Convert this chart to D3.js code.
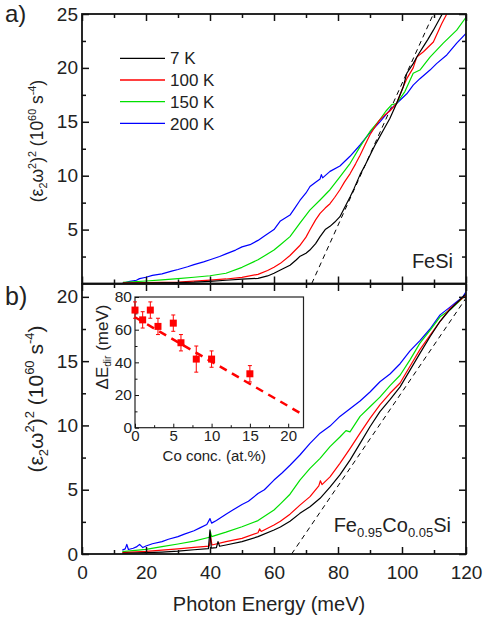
<!DOCTYPE html>
<html>
<head>
<meta charset="utf-8">
<script src="https://cdn.jsdelivr.net/npm/d3@7"></script>
<style>
  body { margin: 0; background: #fff; }
  svg { display: block; }
  text { font-family: "Liberation Sans", Arimo, Arial, sans-serif; fill: #222; }
</style>
</head>
<body>
<div id="wrapper"></div>
<script>
/* global d3 */

// ---- data ----
const temps = ["7 K", "100 K", "150 K", "200 K"]
const tempColors = ["#000000", "#ff0000", "#00e000", "#0000ff"]

// panel a: FeSi, photon energy (meV) vs (eps2 w^2)^2 (1e60 s^-4)
const feSi7K = [[12.8,0.02],[20,0.03],[25,0.05],[30,0.08],[35,0.12],[40,0.2],[45,0.3],[50,0.4],[55,0.48],[58,0.7],[60,0.95],[62,1.25],[65,1.7],[67,2.2],[68,2.5],[70,2.8],[71.2,3.1],[73,3.7],[74.4,4.35],[76,5.0],[77.5,5.3],[79,5.7],[80.6,6.2],[82,7.0],[83.8,8.05],[85,8.8],[86.9,10.1],[88.5,11.0],[90,11.9],[91.5,12.8],[93,13.6],[94.5,14.4],[96.2,15.3],[98.3,16.7],[100.4,18.25],[101.5,19.5],[103.5,20.4],[105,21.2],[106.7,22.0],[108,22.6],[109.8,23.5],[112.4,24.9],[113,25.3]]
const feSi100K = [[12.8,0.05],[20,0.08],[25,0.1],[30,0.14],[35,0.22],[40,0.32],[45,0.42],[50,0.57],[55,0.85],[58,1.2],[60,1.5],[62,1.87],[65,2.6],[68,3.5],[70,4.3],[71.2,4.96],[73,5.9],[74.4,6.5],[76,7.0],[77.5,7.4],[79,8.0],[80.6,8.7],[82,9.4],[83.8,10.2],[85.5,11.1],[86.9,11.9],[88.5,12.9],[90,13.8],[91.5,14.5],[93.1,15.2],[94.5,15.6],[96.2,16.0],[98.3,16.7],[100.4,18.25],[101.5,19.0],[103.5,20.0],[104.6,21.0],[106.7,21.5],[109.8,22.4],[112.4,24.1],[114,25.0],[114.5,25.3]]
const feSi150K = [[12.8,0.1],[20,0.23],[25,0.33],[30,0.45],[35,0.58],[40,0.72],[45,0.95],[50,1.5],[55,2.2],[60,3.1],[62,3.6],[65,4.35],[68.1,5.6],[71.2,6.8],[74.4,7.75],[77.5,8.7],[80.6,9.9],[83.8,11.15],[86.9,12.7],[90,14.1],[93.1,15.2],[95,16.0],[96.8,16.6],[98.3,16.7],[100.9,17.8],[103.5,19.5],[105.6,19.8],[108.75,21.0],[112.9,22.3],[117.1,23.5],[120,24.7]]
const feSi200K = [[12.4,0.0],[15,0.2],[17,0.3],[18,0.45],[20,0.58],[22,0.75],[25,0.9],[28,1.15],[30,1.3],[33,1.55],[35,1.75],[38,2.0],[40,2.2],[43,2.5],[45,2.75],[48,3.1],[50,3.4],[52.5,3.6],[55,4.0],[57,4.4],[60,5.0],[62,5.8],[65,6.35],[66.5,7.0],[68.1,7.7],[70,8.4],[71.25,9.0],[73,9.4],[74.4,9.7],[74.8,10.1],[75.2,9.8],[77.5,10.4],[80.6,10.9],[83.75,11.8],[86.9,12.85],[90,14.0],[93.1,15.0],[96.25,16.1],[98.3,16.7],[101.5,17.6],[103.5,18.4],[105.6,19.0],[108.75,19.8],[110.8,20.4],[114,21.2],[117.1,22.3],[120,23.2]]
const feSiFit = [[71.8,0],[109.8,25]]

// panel b: Fe0.95Co0.05Si
const feCoSi7K = [[12.6,0.05],[20,0.1],[25,0.15],[30,0.22],[35,0.33],[39.5,0.42],[40,1.87],[40.4,0.45],[42,0.5],[42.5,0.96],[43,0.6],[45,0.7],[50,0.96],[55,1.35],[60,1.87],[62,2.1],[65,2.55],[68.1,3.16],[71.25,3.68],[74.4,4.33],[77.5,5.2],[80.6,6.15],[83.75,7.3],[86.9,8.6],[90,9.9],[93.1,11.07],[96.25,12.0],[99.4,13.0],[102.5,14.3],[105.6,15.6],[108.75,16.9],[111.9,18.1],[115,19.0],[119.4,20.1],[120,20.2]]
const feCoSi100K = [[12.6,0.1],[20,0.2],[25,0.3],[30,0.4],[35,0.52],[39.8,0.62],[40.2,1.35],[40.6,0.7],[45,0.96],[50,1.22],[55,1.65],[55.5,1.95],[56,1.75],[60,2.25],[62,2.55],[65,3.1],[68.1,3.8],[71.25,4.46],[74,5.3],[74.5,5.7],[75,5.4],[77.5,6.0],[80.6,7.05],[83.75,8.2],[86.9,9.4],[90,10.55],[93.1,11.6],[96.25,12.5],[99.4,13.3],[102.5,14.6],[105.6,15.9],[108.75,17.0],[111.9,18.1],[115,19.1],[119.4,20.0],[120,20.1]]
const feCoSi150K = [[12.6,0.18],[20,0.36],[25,0.57],[30,0.78],[35,1.0],[39.8,1.3],[40.1,1.75],[40.5,1.35],[45,1.7],[50,2.12],[55,2.6],[60,3.42],[62,3.9],[65,4.65],[68.1,5.75],[71.25,6.66],[74.4,7.44],[77.5,8.35],[80.6,9.1],[82.5,9.6],[83.75,9.5],[86.9,10.7],[90,11.45],[93.1,12.2],[96.25,13.1],[99.4,13.9],[102.5,15.1],[105.6,16.4],[108.75,17.4],[111.9,18.45],[115,19.0],[119.4,20.0],[120,20.0]]
const feCoSi200K = [[12.6,0.3],[13.5,0.4],[14,0.75],[14.5,0.35],[16,0.45],[17,0.55],[18,0.75],[19,0.5],[20,0.62],[22,0.8],[25,0.96],[27,1.15],[30,1.35],[32,1.55],[35,1.81],[37,2.05],[39,2.3],[40,2.75],[40.5,2.4],[42,2.6],[45,3.1],[47,3.4],[50,3.85],[52,4.1],[55,4.7],[57,5.0],[60,5.75],[62.5,6.3],[65,6.9],[68.1,7.7],[71.25,8.6],[74.4,9.4],[77.5,9.95],[80.6,10.7],[83.75,11.3],[86.9,11.9],[90,12.6],[93.1,13.4],[96.25,14.0],[99.4,14.8],[102.5,15.8],[105.6,16.6],[108.75,17.5],[111.9,18.6],[115,19.2],[117,19.6],[119,20.0],[120,20.4]]
const feCoSiFit = [[65.5,0],[120,19.9]]

// inset: gap shift vs Co concentration
const coConc = [0, 1, 2, 3, 5, 6, 8, 10, 15]
const gapShift = [72, 66, 72, 62, 64, 52, 42, 42, 33]
const gapErr = [5, 5, 5, 5, 5, 5, 8, 5, 5]
const gapFit = [[0, 67.6], [22, 7.8]]

const energyTicks = [0, 20, 40, 60, 80, 100, 120]
const energyMinor = [10, 30, 50, 70, 90, 110]
const aTicks = [5, 10, 15, 20, 25]
const aMinor = [2.5, 7.5, 12.5, 17.5, 22.5]
const bTicks = [0, 5, 10, 15, 20]
const bMinor = [2.5, 7.5, 12.5, 17.5]
const insetXTicks = [0, 5, 10, 15, 20]
const insetXMinor = [2.5, 7.5, 12.5, 17.5]
const insetYTicks = [0, 20, 40, 60, 80]
const insetYMinor = [10, 30, 50, 70]

function drawChart() {
  const dimensions = {
    width: 483,
    height: 625,
    left: 82,
    right: 466,
    aTop: 14,
    aBottom: 283.5,
    bTop: 284,
    bBottom: 554,
  }

  const svg = d3.select("#wrapper")
    .append("svg")
    .attr("width", dimensions.width)
    .attr("height", dimensions.height)

  const xScale = d3.scaleLinear()
    .domain([0, 120])
    .range([dimensions.left, dimensions.right])
  const yScaleA = d3.scaleLinear()
    .domain([0, 25])
    .range([dimensions.aBottom, dimensions.aTop])
  const yScaleB = d3.scaleLinear()
    .domain([0, 21])
    .range([dimensions.bBottom, dimensions.bTop])

  // clip paths so curves stop at the frames
  const defs = svg.append("defs")
  defs.append("clipPath").attr("id", "clipA").append("rect")
    .attr("x", dimensions.left).attr("y", dimensions.aTop)
    .attr("width", dimensions.right - dimensions.left)
    .attr("height", dimensions.aBottom - dimensions.aTop)
  defs.append("clipPath").attr("id", "clipB").append("rect")
    .attr("x", dimensions.left).attr("y", dimensions.bTop)
    .attr("width", dimensions.right - dimensions.left)
    .attr("height", dimensions.bBottom - dimensions.bTop)

  const styleAxis = (g, size) => {
    g.select(".domain").remove()
    g.selectAll(".tick line").attr("stroke", "#111").attr("stroke-width", 1.5)
    g.selectAll("text").style("font-size", size + "px")
  }

  function drawPanel(yScale, yTicks, yMinor, showXLabels, series, fit, clipId) {
    const [y0, y1] = yScale.range()
    const panel = svg.append("g")

    // curves
    const line = d3.line()
      .x(d => xScale(d[0]))
      .y(d => yScale(d[1]))
    const curves = panel.append("g").attr("clip-path", `url(#${clipId})`)
    curves.append("path")
      .attr("d", line(fit))
      .attr("fill", "none")
      .attr("stroke", "#000")
      .attr("stroke-width", 1)
      .attr("stroke-dasharray", "5,4")
    // draw 200 K first so 7 K ends on top
    series.slice().reverse().forEach((s, i) => {
      curves.append("path")
        .attr("d", line(s))
        .attr("fill", "none")
        .attr("stroke", tempColors[series.length - 1 - i])
        .attr("stroke-width", 1.2)
        .attr("stroke-linejoin", "round")
    })

    // axes, ticks pointing inwards
    const bottom = panel.append("g")
      .attr("transform", `translate(0,${y0})`)
      .call(d3.axisBottom(xScale).tickValues(energyTicks).tickSize(-7).tickPadding(12)
        .tickFormat(showXLabels ? d3.format("d") : ""))
    styleAxis(bottom, 19)
    const bottomMinor = panel.append("g")
      .attr("transform", `translate(0,${y0})`)
      .call(d3.axisBottom(xScale).tickValues(energyMinor).tickSize(-4).tickFormat(""))
    styleAxis(bottomMinor, 19)

    const top = panel.append("g")
      .attr("transform", `translate(0,${y1})`)
      .call(d3.axisTop(xScale).tickValues(energyTicks).tickSize(-7).tickFormat(""))
    styleAxis(top, 19)
    const topMinor = panel.append("g")
      .attr("transform", `translate(0,${y1})`)
      .call(d3.axisTop(xScale).tickValues(energyMinor).tickSize(-4).tickFormat(""))
    styleAxis(topMinor, 19)

    const left = panel.append("g")
      .attr("transform", `translate(${dimensions.left},0)`)
      .call(d3.axisLeft(yScale).tickValues(yTicks).tickSize(-7).tickPadding(4))
    styleAxis(left, 19)
    const leftMinor = panel.append("g")
      .attr("transform", `translate(${dimensions.left},0)`)
      .call(d3.axisLeft(yScale).tickValues(yMinor).tickSize(-4).tickFormat(""))
    styleAxis(leftMinor, 19)

    const right = panel.append("g")
      .attr("transform", `translate(${dimensions.right},0)`)
      .call(d3.axisRight(yScale).tickValues(yTicks).tickSize(-7).tickFormat(""))
    styleAxis(right, 19)
    const rightMinor = panel.append("g")
      .attr("transform", `translate(${dimensions.right},0)`)
      .call(d3.axisRight(yScale).tickValues(yMinor).tickSize(-4).tickFormat(""))
    styleAxis(rightMinor, 19)

    // frame
    panel.append("rect")
      .attr("x", dimensions.left)
      .attr("y", y1)
      .attr("width", dimensions.right - dimensions.left)
      .attr("height", y0 - y1)
      .attr("fill", "none")
      .attr("stroke", "#111")
      .attr("stroke-width", 1.8)

    return panel
  }

  drawPanel(yScaleA, aTicks, aMinor, false,
    [feSi7K, feSi100K, feSi150K, feSi200K], feSiFit, "clipA")
  drawPanel(yScaleB, bTicks, bMinor, true,
    [feCoSi7K, feCoSi100K, feCoSi150K, feCoSi200K], feCoSiFit, "clipB")

  // y axis titles
  function yTitle(x, y, size) {
    const t = svg.append("text")
      .attr("transform", `translate(${x},${y}) rotate(-90)`)
      .attr("text-anchor", "middle")
      .style("font-size", size + "px")
    const small = (size * 0.62).toFixed(1) + "px"
    t.append("tspan").text("(ε")
    t.append("tspan").attr("dy", size * 0.25).style("font-size", small).text("2")
    t.append("tspan").attr("dy", -size * 0.25).text("ω")
    t.append("tspan").attr("dy", -size * 0.42).style("font-size", small).text("2")
    t.append("tspan").attr("dy", size * 0.42).text(")")
    t.append("tspan").attr("dy", -size * 0.42).style("font-size", small).text("2")
    t.append("tspan").attr("dy", size * 0.42).text(" (10")
    t.append("tspan").attr("dy", -size * 0.42).style("font-size", small).text("60")
    t.append("tspan").attr("dy", size * 0.42).text(" s")
    t.append("tspan").attr("dy", -size * 0.42).style("font-size", small).text("-4")
    t.append("tspan").attr("dy", size * 0.42).text(")")
  }
  yTitle(43, 141, 17.5)
  yTitle(43, 399, 21)

  // x axis title
  svg.append("text")
    .attr("x", 269)
    .attr("y", 611)
    .attr("text-anchor", "middle")
    .style("font-size", "20px")
    .text("Photon Energy (meV)")

  // panel letters
  svg.append("text").attr("x", 5).attr("y", 22).style("font-size", "24px").text("a)")
  svg.append("text").attr("x", 5).attr("y", 305).style("font-size", "25px").text("b)")

  // sample names
  svg.append("text")
    .attr("x", 453).attr("y", 268)
    .attr("text-anchor", "end")
    .style("font-size", "20px")
    .text("FeSi")
  const sample = svg.append("text")
    .attr("x", 451).attr("y", 532)
    .attr("text-anchor", "end")
    .style("font-size", "20px")
  sample.append("tspan").text("Fe")
  sample.append("tspan").attr("dy", 5).style("font-size", "13px").text("0.95")
  sample.append("tspan").attr("dy", -5).text("Co")
  sample.append("tspan").attr("dy", 5).style("font-size", "13px").text("0.05")
  sample.append("tspan").attr("dy", -5).text("Si")

  // legend
  const legend = svg.append("g")
  temps.forEach((name, i) => {
    const y = 58.3 + i * 21.7
    legend.append("line")
      .attr("x1", 120).attr("x2", 165)
      .attr("y1", y).attr("y2", y)
      .attr("stroke", tempColors[i])
      .attr("stroke-width", 1.3)
    legend.append("text")
      .attr("x", 170).attr("y", y)
      .attr("dy", "0.36em")
      .style("font-size", "17px")
      .text(name)
  })

  // ---- inset ----
  const inset = { left: 135, right: 303.5, top: 297, bottom: 427.7 }
  const xInset = d3.scaleLinear().domain([0, 22]).range([inset.left, inset.right])
  const yInset = d3.scaleLinear().domain([0, 80]).range([inset.bottom, inset.top])
  const ig = svg.append("g")

  ig.append("rect")
    .attr("x", inset.left).attr("y", inset.top)
    .attr("width", inset.right - inset.left)
    .attr("height", inset.bottom - inset.top)
    .attr("fill", "#fff")
    .attr("stroke", "#222")
    .attr("stroke-width", 1.2)

  const ixAxis = ig.append("g")
    .attr("transform", `translate(0,${inset.bottom})`)
    .call(d3.axisBottom(xInset).tickValues(insetXTicks).tickSize(-4).tickPadding(3))
  styleAxis(ixAxis, 15)
  const ixMinor = ig.append("g")
    .attr("transform", `translate(0,${inset.bottom})`)
    .call(d3.axisBottom(xInset).tickValues(insetXMinor).tickSize(-2.5).tickFormat(""))
  styleAxis(ixMinor, 15)
  const iyAxis = ig.append("g")
    .attr("transform", `translate(${inset.left},0)`)
    .call(d3.axisLeft(yInset).tickValues(insetYTicks).tickSize(-4).tickPadding(3))
  styleAxis(iyAxis, 15.5)
  const iyMinor = ig.append("g")
    .attr("transform", `translate(${inset.left},0)`)
    .call(d3.axisLeft(yInset).tickValues(insetYMinor).tickSize(-2.5).tickFormat(""))
  styleAxis(iyMinor, 15)
  ig.selectAll(".tick line").attr("stroke-width", 1)

  ig.append("path")
    .attr("d", d3.line().x(d => xInset(d[0])).y(d => yInset(d[1]))(gapFit))
    .attr("fill", "none")
    .attr("stroke", "#ff0000")
    .attr("stroke-width", 2.5)
    .attr("stroke-dasharray", "8,6")

  const points = coConc.map((c, i) => ({ c, e: gapShift[i], err: gapErr[i] }))
  const bars = ig.append("g").attr("stroke", "#ff0000").attr("stroke-width", 1)
  bars.selectAll(".bar").data(points).join("line")
    .attr("x1", d => xInset(d.c)).attr("x2", d => xInset(d.c))
    .attr("y1", d => yInset(d.e - d.err)).attr("y2", d => yInset(d.e + d.err))
  bars.selectAll(".capTop").data(points).join("line")
    .attr("x1", d => xInset(d.c) - 2).attr("x2", d => xInset(d.c) + 2)
    .attr("y1", d => yInset(d.e + d.err)).attr("y2", d => yInset(d.e + d.err))
  bars.selectAll(".capBottom").data(points).join("line")
    .attr("x1", d => xInset(d.c) - 2).attr("x2", d => xInset(d.c) + 2)
    .attr("y1", d => yInset(d.e - d.err)).attr("y2", d => yInset(d.e - d.err))
  ig.append("g").selectAll("rect").data(points).join("rect")
    .attr("x", d => xInset(d.c) - 3.5)
    .attr("y", d => yInset(d.e) - 3.5)
    .attr("width", 7)
    .attr("height", 7)
    .attr("fill", "#ff0000")

  ig.append("text")
    .attr("x", (inset.left + inset.right) / 2 - 5)
    .attr("y", 461)
    .attr("text-anchor", "middle")
    .style("font-size", "15px")
    .text("Co conc. (at.%)")

  const iyTitle = ig.append("text")
    .attr("transform", "translate(108,347) rotate(-90)")
    .attr("text-anchor", "middle")
    .style("font-size", "17px")
  iyTitle.append("tspan").text("ΔE")
  iyTitle.append("tspan").attr("dy", 3).style("font-size", "10px").text("dir")
  iyTitle.append("tspan").attr("dy", -3).text(" (meV)")
}
drawChart()
</script>
</body>
</html>
